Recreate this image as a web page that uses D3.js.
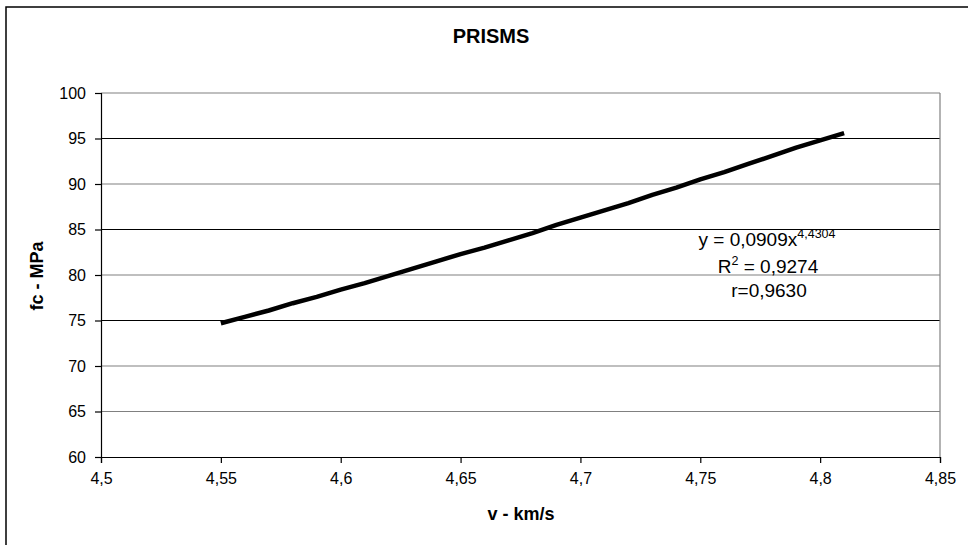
<!DOCTYPE html>
<html><head><meta charset="utf-8">
<script src="https://cdn.jsdelivr.net/npm/d3@7"></script>
<style>body{margin:0;background:#fff;} svg{display:block;font-family:Arial,"Liberation Sans",sans-serif;}</style>
</head><body>
<svg id="c" width="968" height="545"></svg>
<script>
// Data
const velocity = [4.55,4.56,4.57,4.58,4.59,4.60,4.61,4.62,4.63,4.64,4.65,4.66,4.67,4.68,4.69,4.70,4.71,4.72,4.73,4.74,4.75,4.76,4.77,4.78,4.79,4.80,4.81];
const strength = [74.7,75.4,76.1,76.9,77.6,78.4,79.1,79.9,80.7,81.5,82.3,83.0,83.8,84.6,85.5,86.3,87.1,87.9,88.8,89.6,90.5,91.3,92.2,93.1,94.0,94.8,95.6];
const xTicks = [4.5,4.55,4.6,4.65,4.7,4.75,4.8,4.85];
const yTicks = [60,65,70,75,80,85,90,95,100];
const title = "PRISMS";
const xTitle = "v - km/s";
const yTitle = "fc - MPa";
const eqMain = "y = 0,0909x";
const eqExp = "4,4304";
const r2Label = "R";
const r2Value = " = 0,9274";
const rLabel = "r=0,9630";

const svg = d3.select("#c");
const m = {left:101, right:940, top:93, bottom:457};
const x = d3.scaleLinear().domain([4.5,4.85]).range([m.left,m.right]);
const y = d3.scaleLinear().domain([60,100]).range([m.bottom,m.top]);
const fmt = d => String(+d.toFixed(2)).replace(".", ",");

// outer chart border (extends past the picture)
svg.append("rect").attr("x",6).attr("y",7).attr("width",1000).attr("height",600)
  .attr("fill","none").attr("stroke","#000").attr("stroke-width",1.5);

// gridlines
const gridDark = new Set([75,85,95]);
svg.append("g").selectAll("line").data(yTicks.filter(d=>d>60)).join("line")
  .attr("x1",m.left).attr("x2",m.right).attr("y1",d=>y(d)).attr("y2",d=>y(d))
  .attr("stroke",d=>gridDark.has(d)?"#000":"#808080").attr("stroke-width",1.2);
// right border of plot area
svg.append("line").attr("x1",m.right).attr("x2",m.right).attr("y1",m.top).attr("y2",m.bottom)
  .attr("stroke","#808080").attr("stroke-width",1.2);

// axes
const xAxis = d3.axisBottom(x).tickValues(xTicks).tickFormat(fmt).tickSize(6).tickPadding(10);
const yAxis = d3.axisLeft(y).tickValues(yTicks).tickFormat(fmt).tickSize(6).tickPadding(9);
const gx = svg.append("g").attr("transform",`translate(0,${m.bottom})`).call(xAxis);
const gy = svg.append("g").attr("transform",`translate(${m.left},0)`).call(yAxis);
[gx,gy].forEach(g=>{
  g.select(".domain").attr("stroke","#000").attr("stroke-width",1.2);
  g.selectAll(".tick line").attr("stroke","#000").attr("stroke-width",1.2);
  g.selectAll(".tick text").attr("fill","#000").attr("font-size",16).attr("font-family","Arial, 'Liberation Sans', sans-serif");
});

// line
svg.append("path").datum(velocity.map((v,i)=>[v,strength[i]]))
  .attr("fill","none").attr("stroke","#000").attr("stroke-width",4.5)
  .attr("stroke-linejoin","round")
  .attr("d", d3.line().x(d=>x(d[0])).y(d=>y(d[1])));

// titles
svg.append("text").attr("x",491).attr("y",43).attr("text-anchor","middle")
  .attr("font-size",20).attr("font-weight","bold").text(title);
svg.append("text").attr("x",521).attr("y",520).attr("text-anchor","middle")
  .attr("font-size",18).attr("font-weight","bold").text(xTitle);
svg.append("text").attr("transform","translate(43,276) rotate(-90)").attr("text-anchor","middle")
  .attr("font-size",18).attr("font-weight","bold").text(yTitle);

// equation label
const eq = svg.append("text").attr("x",767).attr("y",246).attr("text-anchor","middle").attr("font-size",19);
eq.append("tspan").text(eqMain);
eq.append("tspan").attr("dy",-8).attr("font-size",12.5).text(eqExp);
const r2 = svg.append("text").attr("x",768).attr("y",273).attr("text-anchor","middle").attr("font-size",19);
r2.append("tspan").text(r2Label);
r2.append("tspan").attr("dy",-8).attr("font-size",12.5).text("2");
r2.append("tspan").attr("dy",8).text(r2Value);
svg.append("text").attr("x",769).attr("y",297).attr("text-anchor","middle").attr("font-size",19).text(rLabel);
</script>
</body></html>
